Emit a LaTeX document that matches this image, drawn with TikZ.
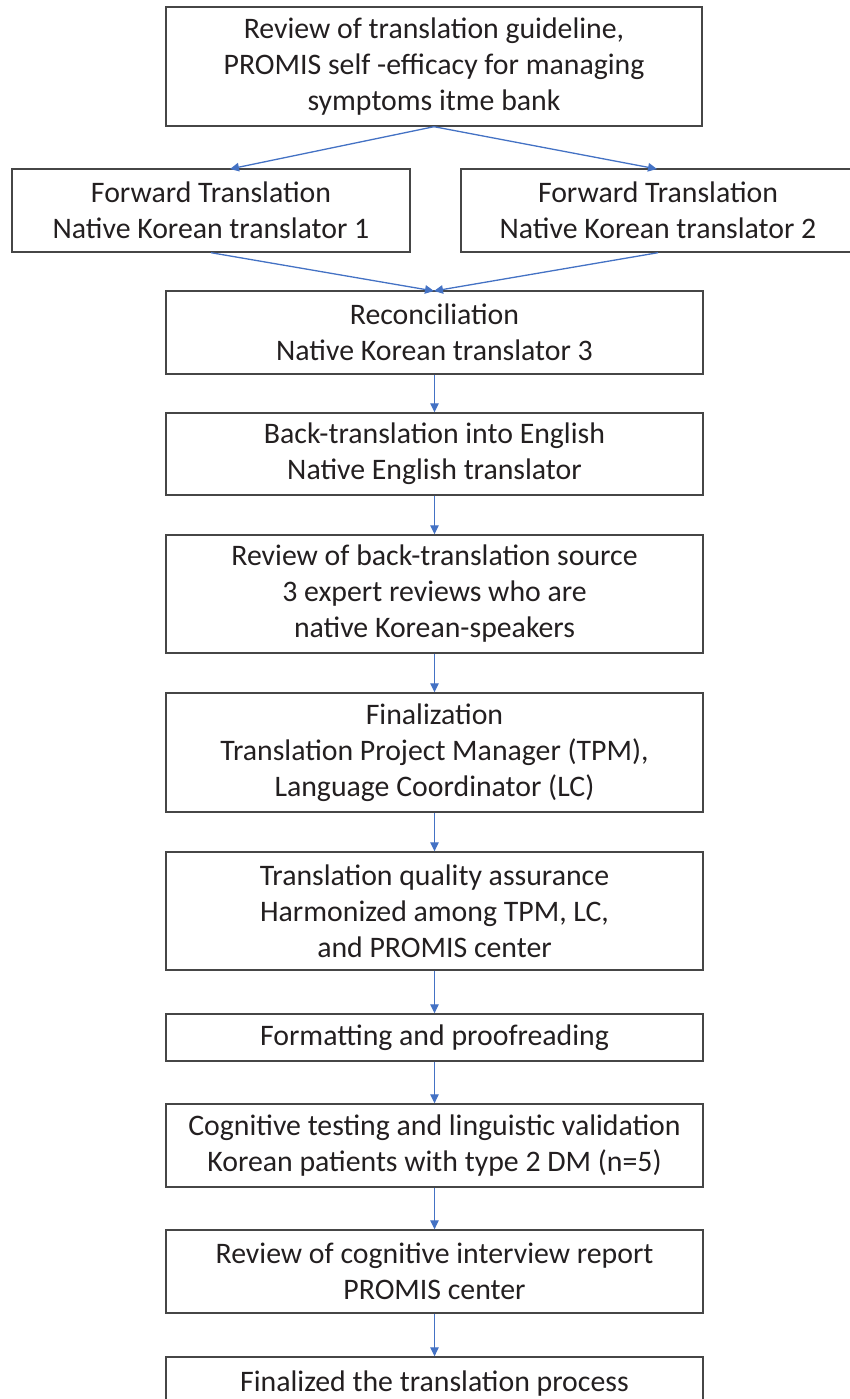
\documentclass[tikz,border=0pt]{standalone}
\usepackage{fontspec}
\setmainfont{Carlito}
\usetikzlibrary{arrows.meta,calc}
\definecolor{arrowblue}{RGB}{68,114,196}
\definecolor{boxline}{RGB}{70,70,70}
\definecolor{txt}{RGB}{35,31,32}
\tikzset{
  stepbox/.style={draw=boxline, line width=1.4pt, rectangle, align=center, inner sep=0pt,
    text=txt, font=\fontsize{29.8}{36}\selectfont},
  flow/.style={draw=arrowblue, line width=1.3pt, -{Triangle[length=9pt,width=8.5pt]}}
}
\begin{document}
\begin{tikzpicture}[x=1pt,y=-1pt]
\useasboundingbox (0,0) rectangle (850,1399);
\node[stepbox, minimum width=536pt, minimum height=119pt] (b1) at (434,66.5)
  {Review of translation guideline,\\PROMIS self -efficacy for managing\\symptoms itme bank};
\node[stepbox, minimum width=398pt, minimum height=83pt] (fl) at (211,210.5)
  {Forward Translation\\Native Korean translator 1};
\node[stepbox, minimum width=394pt, minimum height=83pt] (fr) at (658,210.5)
  {Forward Translation\\Native Korean translator 2};
\node[stepbox, minimum width=537pt, minimum height=83pt] (b4) at (434.5,332.5)
  {Reconciliation\\Native Korean translator 3};
\node[stepbox, minimum width=537pt, minimum height=82pt] (b5) at (434.5,454)
  {Back-translation into English\\Native English translator};
\node[stepbox, minimum width=537pt, minimum height=118pt] (b6) at (434.5,594)
  {Review of back-translation source\\3 expert reviews who are\\native Korean-speakers};
\node[stepbox, minimum width=537pt, minimum height=119pt] (b7) at (434.5,752.5)
  {Finalization\\Translation Project Manager (TPM),\\Language Coordinator (LC)};
\node[stepbox, minimum width=537pt, minimum height=118pt] (b8) at (434.5,911)
  {Translation quality assurance\\Harmonized among TPM, LC,\\and PROMIS center};
\node[stepbox, minimum width=537pt, minimum height=47pt] (b9) at (434.5,1037.5)
  {Formatting and proofreading};
\node[stepbox, minimum width=537pt, minimum height=83pt] (b10) at (434.5,1145.5)
  {Cognitive testing and linguistic validation\\Korean patients with type 2 DM (n=5)};
\node[stepbox, minimum width=537pt, minimum height=83pt] (b11) at (434.5,1271.5)
  {Review of cognitive interview report\\PROMIS center};
\node[stepbox, minimum width=537pt, minimum height=83pt, text height=20pt, text depth=35pt] (b12) at (434.5,1398.5)
  {Finalized the translation process};
\coordinate (flin) at (230,169);
\coordinate (frin) at (657,169);
\coordinate (b4in) at (434,291);
\draw[flow] (b1.south) -- (flin);
\draw[flow] (b1.south) -- (frin);
\draw[flow] (fl.south) -- (b4in);
\draw[flow] (fr.south) -- (b4in);
\draw[flow] (b4.south) -- (b5.north);
\draw[flow] (b5.south) -- (b6.north);
\draw[flow] (b6.south) -- (b7.north);
\draw[flow] (b7.south) -- (b8.north);
\draw[flow] (b8.south) -- (b9.north);
\draw[flow] (b9.south) -- (b10.north);
\draw[flow] (b10.south) -- (b11.north);
\draw[flow] (b11.south) -- (b12.north);
\end{tikzpicture}
\end{document}
